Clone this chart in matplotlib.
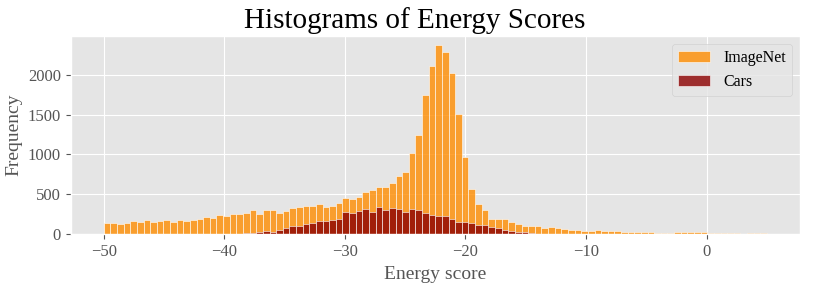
import numpy as np
import matplotlib
matplotlib.use('Agg')
import matplotlib.pyplot as plt

plt.style.use('ggplot')
plt.rcParams['font.family'] = ['Liberation Serif', 'DejaVu Serif']

# histogram counts, 100 bins from -50 to 5
bin_lo, bin_hi, n_bins = -50, 5, 100

imagenet_counts = [
    142, 142, 133, 146, 162, 154, 179, 150, 162, 179,
    154, 175, 167, 179, 192, 217, 204, 237, 233, 254,
    250, 267, 300, 258, 304, 300, 267, 292, 333, 338,
    350, 358, 379, 346, 358, 396, 458, 442, 467, 525,
    558, 588, 592, 646, 725, 775, 1017, 1246, 1738, 2104,
    2367, 2279, 2017, 1504, 971, 571, 383, 300, 188, 188,
    188, 154, 129, 108, 104, 100, 75, 96, 83, 63,
    58, 52, 48, 40, 50, 44, 42, 38, 30, 27,
    30, 26, 28, 22, 22, 20, 24, 24, 24, 24,
    26, 20, 20, 18, 14, 18, 4, 18, 18, 16,
]

cars_counts = [
    0, 0, 0, 0, 0, 0, 0, 0, 0, 0,
    0, 0, 0, 0, 0, 0, 0, 0, 0, 5,
    8, 18, 15, 25, 40, 28, 58, 79, 108, 108,
    125, 138, 167, 167, 183, 192, 275, 267, 292, 313,
    283, 338, 300, 325, 321, 275, 313, 304, 271, 246,
    225, 225, 196, 154, 150, 142, 121, 121, 96, 83,
    50, 42, 29, 29, 17, 8, 4, 0, 0, 0,
    0, 0, 0, 0, 0, 0, 0, 0, 0, 0,
    0, 0, 0, 0, 0, 0, 0, 0, 0, 0,
    0, 0, 0, 0, 0, 0, 0, 0, 0, 0,
]

edges = np.linspace(bin_lo, bin_hi, n_bins + 1)
centers = (edges[:-1] + edges[1:]) / 2

fig, ax = plt.subplots(figsize=(8.3, 2.93), dpi=100)
fig.subplots_adjust(left=0.085, right=0.964, bottom=0.2, top=0.878)

ax.hist(centers, bins=edges, weights=imagenet_counts, color='darkorange',
        alpha=0.8, edgecolor='white', linewidth=0.5, label='ImageNet')
ax.hist(centers, bins=edges, weights=cars_counts, color='darkred',
        alpha=0.8, edgecolor='white', linewidth=0.5, label='Cars')

# title sits centred on the figure, not on the axes
fig.text(0.5, 0.905, 'Histograms of Energy Scores', fontsize=21,
         color='black', ha='center', va='baseline')
ax.set_xlabel('Energy score', fontsize=14)
ax.set_ylabel('Frequency', fontsize=14)
ax.tick_params(labelsize=12)
ax.legend(loc='upper right', fontsize=11.5)

plt.savefig('out.png', dpi=100)
